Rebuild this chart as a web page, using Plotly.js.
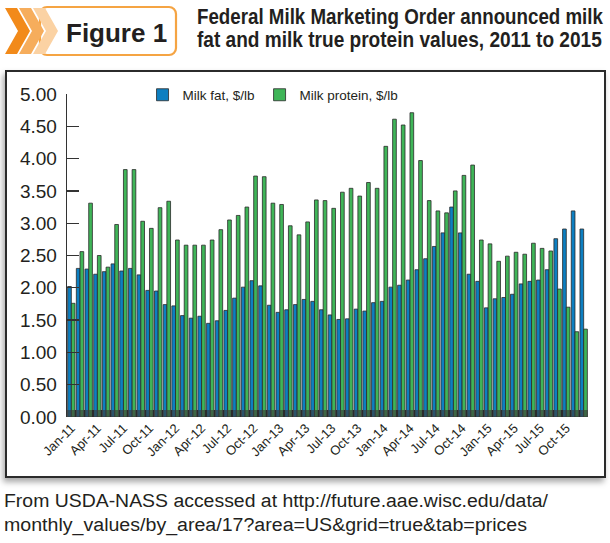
<!DOCTYPE html>
<html>
<head>
<meta charset="utf-8">
<script src="https://cdn.plot.ly/plotly-3.0.1.min.js"></script>
<style>
  html, body { margin:0; padding:0; background:#fff; }
  #wrap { position:relative; width:610px; height:543px; overflow:hidden; }
  #frame { position:absolute; left:5px; top:70px; width:597px; height:404px; border:2px solid #2b2b2b; background:#fff; box-shadow: -2px 4px 6px rgba(0,0,0,0.35); }
  #chart { position:absolute; left:0; top:0; width:610px; height:543px; }
  #deco { position:absolute; left:0; top:0; width:610px; height:543px; pointer-events:none; }
</style>
</head>
<body>
<div id="wrap">
  <div id="frame"></div>
  <svg id="deco" width="610" height="543">
    <rect x="40" y="7" width="136" height="48" rx="7" ry="7" fill="#fff" stroke="#f5a443" stroke-width="2.2"/>
    <polygon points="5,8 17,8 30,31 17,54 5,54 18,31" fill="#f28a1a"/>
    <polygon points="19,8 31,8 44,31 31,54 19,54 32,31" fill="#f6ad5c"/>
    <polygon points="33,8 45,8 58,31 45,54 33,54 46,31" fill="#fbd2a3"/>
    <text x="66" y="42" font-family="Liberation Sans, Arial, sans-serif" font-weight="bold" font-size="26" fill="#231f20">Figure 1</text>
    <g transform="translate(197,0) scale(0.852,1)">
      <text x="0" y="24" font-family="Liberation Sans, Arial, sans-serif" font-weight="bold" font-size="22" fill="#231f20">Federal Milk Marketing Order announced milk</text>
    </g>
    <g transform="translate(197,0) scale(0.867,1)">
      <text x="0" y="47" font-family="Liberation Sans, Arial, sans-serif" font-weight="bold" font-size="22" fill="#231f20">fat and milk true protein values, 2011 to 2015</text>
    </g>
    <text x="4" y="507" font-family="Liberation Sans, Arial, sans-serif" font-size="18" fill="#231f20" textLength="544" lengthAdjust="spacingAndGlyphs">From USDA-NASS accessed at http://future.aae.wisc.edu/data/</text>
    <text x="4" y="531" font-family="Liberation Sans, Arial, sans-serif" font-size="18" fill="#231f20" textLength="523" lengthAdjust="spacingAndGlyphs">monthly_values/by_area/17?area=US&amp;grid=true&amp;tab=prices</text>
  </svg>
  <div id="chart"></div>
</div>
<script>
// Months Jan-11 .. Dec-15
const years = ['11','12','13','14','15'];
const monthNames = ['Jan','Feb','Mar','Apr','May','Jun','Jul','Aug','Sep','Oct','Nov','Dec'];
const months = [];
years.forEach(y => monthNames.forEach(m => months.push(m + '-' + y)));

const milkFat = [
  2.02, 2.30, 2.29, 2.21, 2.25, 2.37, 2.26, 2.30, 2.20, 1.96, 1.95, 1.74,
  1.72, 1.57, 1.53, 1.56, 1.45, 1.49, 1.65, 1.84, 2.01, 2.11, 2.03, 1.73,
  1.62, 1.66, 1.74, 1.82, 1.79, 1.66, 1.58, 1.51, 1.52, 1.67, 1.64, 1.77,
  1.79, 2.01, 2.04, 2.12, 2.28, 2.45, 2.64, 2.85, 3.25, 2.85, 2.21, 2.10,
  1.69, 1.83, 1.85, 1.90, 2.06, 2.10, 2.12, 2.28, 2.76, 2.91, 3.19, 2.91
];
const milkProtein = [
  1.76, 2.56, 3.31, 2.50, 2.32, 2.98, 3.83, 3.83, 3.03, 2.92, 3.24, 3.34,
  2.74, 2.66, 2.66, 2.66, 2.74, 2.90, 3.05, 3.12, 3.25, 3.73, 3.72, 3.31,
  3.29, 2.96, 2.82, 3.02, 3.36, 3.35, 3.23, 3.48, 3.54, 3.42, 3.63, 3.54,
  4.19, 4.61, 4.52, 4.71, 3.97, 3.35, 3.19, 3.16, 3.50, 3.74, 3.90, 2.74,
  2.68, 2.41, 2.49, 2.55, 2.52, 2.69, 2.61, 2.57, 1.98, 1.70, 1.32, 1.36
];
const tickLabels = months.map((m, i) => (i % 3 === 0 ? m : ''));
const yTicks = [0, 0.5, 1, 1.5, 2, 2.5, 3, 3.5, 4, 4.5, 5];

const traces = [
  { type:'bar', name:'Milk fat, $/lb', x: months, y: milkFat,
    marker:{ color:'#0d7fc1', line:{ color:'#2a2a2a', width:0.8 } } },
  { type:'bar', name:'Milk protein, $/lb', x: months, y: milkProtein,
    marker:{ color:'#3fb558', line:{ color:'#2a2a2a', width:0.8 } } }
];

const layout = {
  width:610, height:543,
  margin:{ l:67, r:22, t:94, b:126, pad:0 },
  paper_bgcolor:'rgba(0,0,0,0)', plot_bgcolor:'rgba(0,0,0,0)',
  barmode:'group', bargap:0.15, bargroupgap:0,
  showlegend:true,
  legend:{ orientation:'h', x:0.145, y:0.997, xanchor:'left', yanchor:'middle',
    font:{ family:'Liberation Sans, Arial, sans-serif', size:13.5, color:'#231f20' },
    bgcolor:'rgba(0,0,0,0)', itemwidth:30, tracegroupgap:0 },
  xaxis:{ type:'category', range:[-0.5, 59.5], tickmode:'array', tickvals: months, ticktext: tickLabels,
    tickangle:-45, ticks:'inside', ticklen:7, tickcolor:'#111', tickwidth:1.2, tickson:'boundaries',
    showline:false, showgrid:false, zeroline:false,
    tickfont:{ family:'Liberation Sans, Arial, sans-serif', size:13, color:'#231f20' } },
  yaxis:{ range:[0, 5], tickmode:'array', tickvals: yTicks, tickformat:'.2f',
    ticks:'inside', ticklen:12, tickcolor:'#333', tickwidth:1.3, ticklabelstandoff:5,
    showline:true, linecolor:'#333', linewidth:1.3, showgrid:false, zeroline:false,
    tickfont:{ family:'Liberation Sans, Arial, sans-serif', size:19, color:'#231f20' } },
  shapes:[
    { type:'rect', xref:'paper', yref:'y', x0:0, x1:1, y0:0, y1:0.11, fillcolor:'#3c3c3c', opacity:0.65, line:{ width:0 }, layer:'above' }
  ]
};

Plotly.newPlot('chart', traces, layout, { displayModeBar:false, staticPlot:true });
</script>
</body>
</html>
